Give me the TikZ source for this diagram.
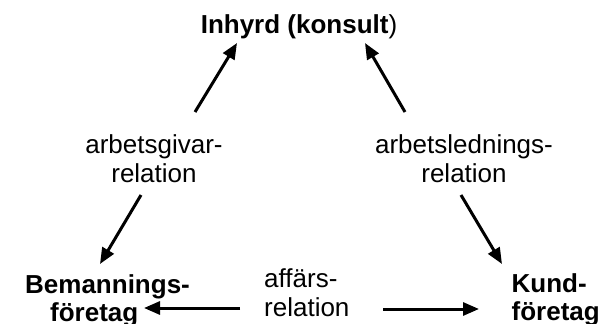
\documentclass[tikz,border=0pt]{standalone}
\usepackage{fontspec}
\setmainfont{Liberation Sans}
\usetikzlibrary{arrows.meta}
\tikzset{
  lbl/.style={inner sep=0pt, font=\fontsize{26}{29}\selectfont},
  blbl/.style={inner sep=0pt, font=\fontsize{26}{28}\selectfont\bfseries},
  rel/.style={line width=3pt, -{Triangle[length=16pt,width=13pt]}}
}
\begin{document}
\begin{tikzpicture}[x=1pt,y=-1pt]
\useasboundingbox (0,0) rectangle (598,324);
% labels
\node[blbl, anchor=base] (top) at (299,33) {Inhyrd (konsult\textmd{)}};
\node[lbl, anchor=north, align=center] (ag) at (154,134) {arbetsgivar-\\relation};
\node[lbl, anchor=north, align=center] (al) at (464,134) {arbetslednings-\\relation};
\node[lbl, anchor=north west, align=left] (af) at (264,268) {affärs-\\relation};
\node[blbl, anchor=north west, align=left] (bf) at (25,274) {Bemannings-\\\hspace*{25pt}företag};
\node[blbl, anchor=north west, align=left] (kf) at (511.5,273) {Kund-\\företag};
% arrow end points
\coordinate (a1s) at (195,112);
\coordinate (a1e) at (237,43);
\coordinate (a2s) at (405,112);
\coordinate (a2e) at (365,43);
\coordinate (a3s) at (141,195);
\coordinate (a3e) at (100,264);
\coordinate (a4s) at (461,195);
\coordinate (a4e) at (502,264);
\coordinate (a5s) at (240,308);
\coordinate (a5e) at (144,308);
\coordinate (a6s) at (383,309);
\coordinate (a6e) at (479,309);
\draw[rel] (a1s) -- (a1e);
\draw[rel] (a2s) -- (a2e);
\draw[rel] (a3s) -- (a3e);
\draw[rel] (a4s) -- (a4e);
\draw[rel] (a5s) -- (a5e);
\draw[rel] (a6s) -- (a6e);
\end{tikzpicture}
\end{document}
